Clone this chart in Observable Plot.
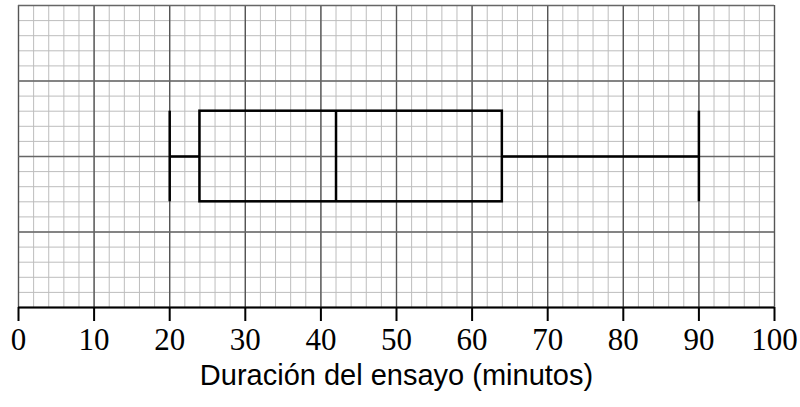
<!DOCTYPE html>
<html>
<head>
<meta charset="utf-8">
<script src="https://cdn.jsdelivr.net/npm/d3@7"></script>
<script src="https://cdn.jsdelivr.net/npm/@observablehq/plot@0.6"></script>
<style>
  html, body { margin: 0; padding: 0; background: #fff; }
</style>
</head>
<body>
<div id="chart"></div>
<script>
// Data
const xLabel = "Duración del ensayo (minutos)";
const xTicks = [0, 10, 20, 30, 40, 50, 60, 70, 80, 90, 100];
const boxStats = [{min: 20, q1: 24, median: 42, q3: 64, max: 90}];
// Grid definitions (paper grid)
const minorX = d3.range(0, 101, 2);
const majorX = d3.range(0, 101, 10);
const minorY = d3.range(0, 20.5, 1).map(d => d / 5);
const majorY = [0, 1, 2, 3, 4];
// Box vertical extent in grid units
const boxCenter = 2, boxHalf = 0.6;

const plot = Plot.plot({
  width: 800,
  height: 407,
  marginLeft: 18,
  marginRight: 26,
  marginTop: 5,
  marginBottom: 100,
  x: {domain: [0, 100]},
  y: {domain: [0, 4], axis: null},
  marks: [
    Plot.ruleX(minorX, {stroke: "#bdbdbd", strokeWidth: 1}),
    Plot.ruleY(minorY, {stroke: "#bdbdbd", strokeWidth: 1}),
    Plot.ruleX(majorX, {stroke: "#555", strokeWidth: 1.4}),
    Plot.ruleY(majorY, {stroke: "#666", strokeWidth: 1.4}),
    // box
    Plot.rect(boxStats, {x1: "q1", x2: "q3", y1: boxCenter - boxHalf, y2: boxCenter + boxHalf, fill: "none", stroke: "black", strokeWidth: 2.5}),
    Plot.ruleX(boxStats, {x: "median", y1: boxCenter - boxHalf, y2: boxCenter + boxHalf, stroke: "black", strokeWidth: 2.5}),
    Plot.ruleX(boxStats, {x: "min", y1: boxCenter - boxHalf, y2: boxCenter + boxHalf, stroke: "black", strokeWidth: 2.5}),
    Plot.ruleX(boxStats, {x: "max", y1: boxCenter - boxHalf, y2: boxCenter + boxHalf, stroke: "black", strokeWidth: 2.5}),
    Plot.ruleY(boxStats, {y: boxCenter, x1: "min", x2: "q1", stroke: "black", strokeWidth: 2.5}),
    Plot.ruleY(boxStats, {y: boxCenter, x1: "q3", x2: "max", stroke: "black", strokeWidth: 2.5}),
    // axis line and ticks
    Plot.ruleY([0], {stroke: "black", strokeWidth: 2}),
    Plot.axisX({ticks: xTicks, tickSize: 14, tickFormat: () => "", stroke: "black", strokeWidth: 2, label: null}),
    // tick labels
    Plot.text(xTicks, {x: d => d, frameAnchor: "bottom", lineAnchor: "top", dy: 20, text: d => String(d), fontSize: 31, fontFamily: "Liberation Serif", fill: "black"}),
    // axis title
    Plot.text([xLabel], {frameAnchor: "bottom", dy: 77, fontSize: 29, fontFamily: "Liberation Sans", fill: "black"})
  ]
});
plot.style.color = "black";
document.getElementById("chart").appendChild(plot);
</script>
</body>
</html>
